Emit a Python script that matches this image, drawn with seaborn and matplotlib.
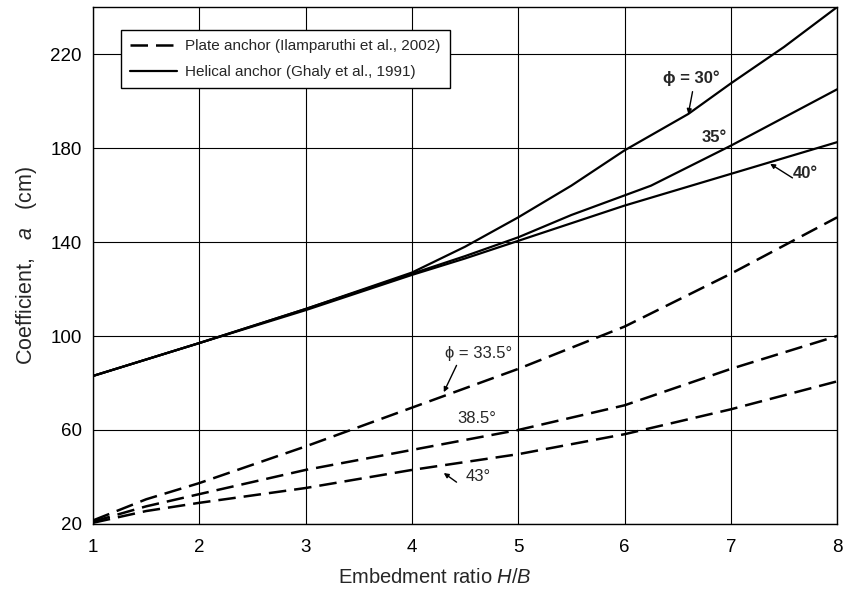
import matplotlib
matplotlib.use("Agg")
import matplotlib.pyplot as plt
import seaborn as sns
import pandas as pd
from matplotlib.lines import Line2D

# Helical anchor curves (solid lines)
hel_30_x = [1, 1.5, 2, 3, 4, 4.5, 5, 5.5, 6, 6.6, 7, 7.5, 8]
hel_30_y = [83, 90, 97, 111.5, 127, 138, 150.5, 164, 179, 194.5, 207.5, 223, 240]
hel_35_x = [1, 1.5, 2, 3, 4, 4.5, 5, 5.5, 6.25, 7, 8]
hel_35_y = [83, 90, 97, 111.5, 126.5, 134, 142, 151.5, 164, 181, 205]
hel_40_x = [1, 1.5, 2, 3, 4, 4.5, 5, 5.5, 6, 7, 8]
hel_40_y = [83, 90, 97, 111, 126, 133, 140.5, 148, 155.5, 169, 182.5]

# Plate anchor curves (dashed lines)
plate_x = [1, 1.5, 2, 3, 4, 5, 6, 7, 8]
plate_335_y = [21.5, 30.5, 37.4, 53, 69.5, 86, 104, 126.5, 150.5]
plate_385_y = [21, 27.5, 32.7, 43, 51.5, 60, 70.5, 86, 100]
plate_43_y = [20.5, 25.5, 29, 35.3, 43, 49.7, 58.2, 68.8, 80.7]

x_ticks = [1, 2, 3, 4, 5, 6, 7, 8]
y_ticks = [20, 60, 100, 140, 180, 220]

legend_labels = ["Plate anchor (Ilamparuthi et al., 2002)",
                 "Helical anchor (Ghaly et al., 1991)"]

sns.set_style("white")
plt.rcParams["font.family"] = ["Liberation Sans", "DejaVu Sans"]
plt.rcParams["mathtext.fontset"] = "custom"
plt.rcParams["mathtext.it"] = "Liberation Sans:italic"
plt.rcParams["mathtext.rm"] = "Liberation Sans"

frames = []
for name, xs, ys, kind in [
    ("h30", hel_30_x, hel_30_y, "helical"),
    ("h35", hel_35_x, hel_35_y, "helical"),
    ("h40", hel_40_x, hel_40_y, "helical"),
    ("p335", plate_x, plate_335_y, "plate"),
    ("p385", plate_x, plate_385_y, "plate"),
    ("p43", plate_x, plate_43_y, "plate"),
]:
    frames.append(pd.DataFrame({"HB": xs, "a": ys, "curve": name, "kind": kind}))
df = pd.concat(frames, ignore_index=True)

DASH = (7, 3.2)

fig = plt.figure(figsize=(8.49, 5.89), dpi=100)
ax = fig.add_axes([0.1095, 0.1104, 0.8765, 0.8776])

solid = df[df["kind"] == "helical"]
dashed = df[df["kind"] == "plate"]
sns.lineplot(data=solid, x="HB", y="a", units="curve", estimator=None,
             color="black", lw=1.6, ax=ax, sort=False)
sns.lineplot(data=dashed, x="HB", y="a", units="curve", estimator=None,
             color="black", lw=1.8, ax=ax, sort=False, dashes=False)
for line in ax.lines[len(ax.lines) - 3:]:
    line.set_dashes(DASH)

ax.set_xlim(1, 8)
ax.set_ylim(20, 240)
ax.set_xticks(x_ticks)
ax.set_yticks(y_ticks)
ax.grid(True, color="black", lw=0.8)
ax.set_axisbelow(True)
for s in ax.spines.values():
    s.set_color("black")
    s.set_linewidth(1.0)
ax.tick_params(axis="both", direction="out", length=5, width=0.8,
               colors="black", labelsize=13.5)
ax.tick_params(axis="x", pad=6)
ax.tick_params(axis="y", pad=3)

ax.set_xlabel("Embedment ratio $H/B$", fontsize=14.5)
ax.xaxis.set_label_coords(0.46, -0.085)
ax.set_ylabel("Coefficient,   $a$   (cm)", fontsize=15.5, labelpad=8)

handles = [Line2D([], [], color="black", lw=1.8, dashes=DASH),
           Line2D([], [], color="black", lw=1.6)]
leg = ax.legend(handles, legend_labels, loc="upper left",
                bbox_to_anchor=(0.0376, 0.955), borderaxespad=0,
                fontsize=11, frameon=True, fancybox=False,
                handlelength=3.1, handletextpad=0.5, labelspacing=0.75,
                borderpad=0.6)
leg.get_frame().set_edgecolor("black")
leg.get_frame().set_linewidth(1.0)
leg.get_frame().set_facecolor("white")
leg.get_frame().set_alpha(1)

arrow = dict(arrowstyle="-|>", color="black", lw=1.0, mutation_scale=7,
             shrinkA=0, shrinkB=0)

# Helical anchor friction-angle labels
ax.text(6.63, 209.8, "ϕ = 30°", fontsize=12, fontweight="bold",
        ha="center", va="center")
ax.annotate("", xy=(6.6, 194.5), xytext=(6.64, 204.0), arrowprops=arrow)
ax.text(6.84, 184.3, "35°", fontsize=12, fontweight="bold",
        ha="center", va="center")
ax.text(7.70, 169.0, "40°", fontsize=12, fontweight="bold",
        ha="center", va="center")
ax.annotate("", xy=(7.37, 173.3), xytext=(7.58, 167.3), arrowprops=arrow)

# Plate anchor friction-angle labels
ax.text(4.63, 92.6, "ϕ = 33.5°", fontsize=12, ha="center", va="center")
ax.annotate("", xy=(4.30, 76.1), xytext=(4.42, 87.5), arrowprops=arrow)
ax.text(4.61, 65.0, "38.5°", fontsize=12, ha="center", va="center")
ax.text(4.62, 40.0, "43°", fontsize=12, ha="center", va="center")
ax.annotate("", xy=(4.30, 41.7), xytext=(4.42, 37.8), arrowprops=arrow)

fig.savefig("out.png", dpi=100)
